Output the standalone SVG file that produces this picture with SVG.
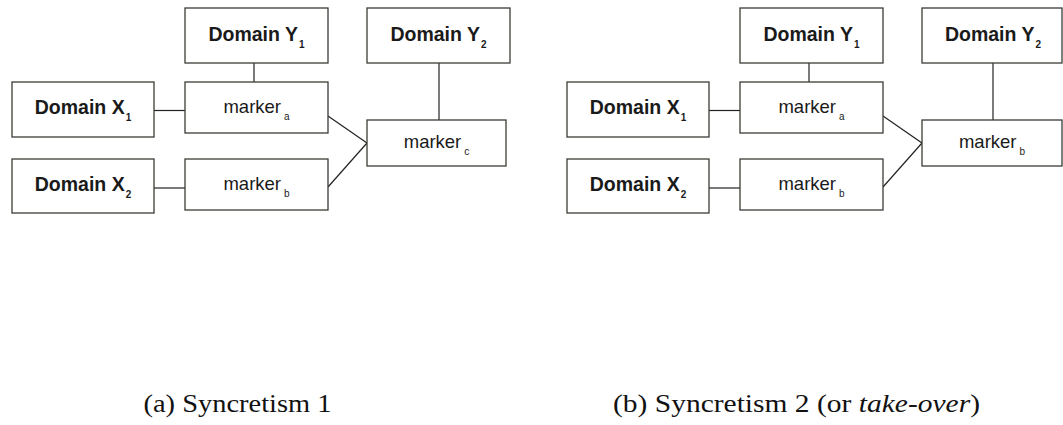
<svg xmlns="http://www.w3.org/2000/svg" width="1063" height="425" viewBox="0 0 1063 425">
<style>
.box{fill:#fff;stroke:#3a3d35;stroke-width:1.3}
.ln{stroke:#222;stroke-width:1.2;fill:none}
.dom{font-family:"Liberation Sans",Arial,sans-serif;font-weight:bold;font-size:19.5px;fill:#1a1a1a;text-anchor:middle}
.mk{font-family:"Liberation Sans",Arial,sans-serif;font-size:18.5px;fill:#1a1a1a;text-anchor:middle}
.sub{font-size:10px}
.cap{font-family:"Liberation Serif","Times New Roman",serif;font-size:25px;fill:#111;text-anchor:middle}
</style>
<rect width="1063" height="425" fill="#fff"/>
<g id="connectors">
<line class="ln" x1="254" y1="63" x2="254" y2="82"/>
<line class="ln" x1="154" y1="110.5" x2="185" y2="110.5"/>
<line class="ln" x1="154" y1="188" x2="185" y2="188"/>
<line class="ln" x1="439" y1="63" x2="439" y2="120"/>
<line class="ln" x1="328" y1="116" x2="367" y2="143"/>
<line class="ln" x1="328" y1="187" x2="367" y2="143"/>
<line class="ln" x1="809" y1="63" x2="809" y2="82"/>
<line class="ln" x1="709" y1="110.5" x2="740" y2="110.5"/>
<line class="ln" x1="709" y1="188" x2="740" y2="188"/>
<line class="ln" x1="993" y1="63" x2="993" y2="120"/>
<line class="ln" x1="883" y1="116" x2="922" y2="143"/>
<line class="ln" x1="883" y1="187" x2="922" y2="143"/>
</g>
<g id="a-domainY1"><rect class="box" x="185" y="8" width="143" height="55"/><text class="dom" x="256.5" y="41">Domain Y<tspan class="sub" dx="1" dy="6.5">1</tspan></text></g>
<g id="a-domainY2"><rect class="box" x="367" y="8" width="143" height="55"/><text class="dom" x="438.5" y="41">Domain Y<tspan class="sub" dx="1" dy="6.5">2</tspan></text></g>
<g id="a-domainX1"><rect class="box" x="12" y="82" width="142" height="55"/><text class="dom" x="83" y="114">Domain X<tspan class="sub" dx="1" dy="6.5">1</tspan></text></g>
<g id="a-domainX2"><rect class="box" x="12" y="159" width="142" height="54"/><text class="dom" x="83" y="191">Domain X<tspan class="sub" dx="1" dy="6.5">2</tspan></text></g>
<g id="a-markerA"><rect class="box" x="185" y="82" width="143" height="51"/><text class="mk" x="256.5" y="113">marker<tspan class="sub" dx="3" dy="6.5">a</tspan></text></g>
<g id="a-markerB"><rect class="box" x="185" y="159" width="143" height="51"/><text class="mk" x="256.5" y="190">marker<tspan class="sub" dx="3" dy="6.5">b</tspan></text></g>
<g id="a-markerC"><rect class="box" x="367" y="120" width="139" height="46"/><text class="mk" x="436.5" y="148">marker<tspan class="sub" dx="3" dy="6.5">c</tspan></text></g>
<g id="b-domainY1"><rect class="box" x="740" y="8" width="143" height="55"/><text class="dom" x="811.5" y="41">Domain Y<tspan class="sub" dx="1" dy="6.5">1</tspan></text></g>
<g id="b-domainY2"><rect class="box" x="922" y="8" width="140" height="55"/><text class="dom" x="993" y="41">Domain Y<tspan class="sub" dx="1" dy="6.5">2</tspan></text></g>
<g id="b-domainX1"><rect class="box" x="567" y="82" width="142" height="55"/><text class="dom" x="638" y="114">Domain X<tspan class="sub" dx="1" dy="6.5">1</tspan></text></g>
<g id="b-domainX2"><rect class="box" x="567" y="159" width="142" height="54"/><text class="dom" x="638" y="191">Domain X<tspan class="sub" dx="1" dy="6.5">2</tspan></text></g>
<g id="b-markerA"><rect class="box" x="740" y="82" width="143" height="51"/><text class="mk" x="811.5" y="113">marker<tspan class="sub" dx="3" dy="6.5">a</tspan></text></g>
<g id="b-markerB"><rect class="box" x="740" y="159" width="143" height="51"/><text class="mk" x="811.5" y="190">marker<tspan class="sub" dx="3" dy="6.5">b</tspan></text></g>
<g id="b-markerB2"><rect class="box" x="922" y="120" width="140" height="46"/><text class="mk" x="992" y="148">marker<tspan class="sub" dx="3" dy="6.5">b</tspan></text></g>
<g id="captions">
<text class="cap" x="237.5" y="412" textLength="188" lengthAdjust="spacingAndGlyphs">(a) Syncretism 1</text>
<text class="cap" x="796.5" y="412" textLength="367" lengthAdjust="spacingAndGlyphs">(b) Syncretism 2 (or <tspan font-style="italic">take-over</tspan>)</text>
</g>
</svg>
